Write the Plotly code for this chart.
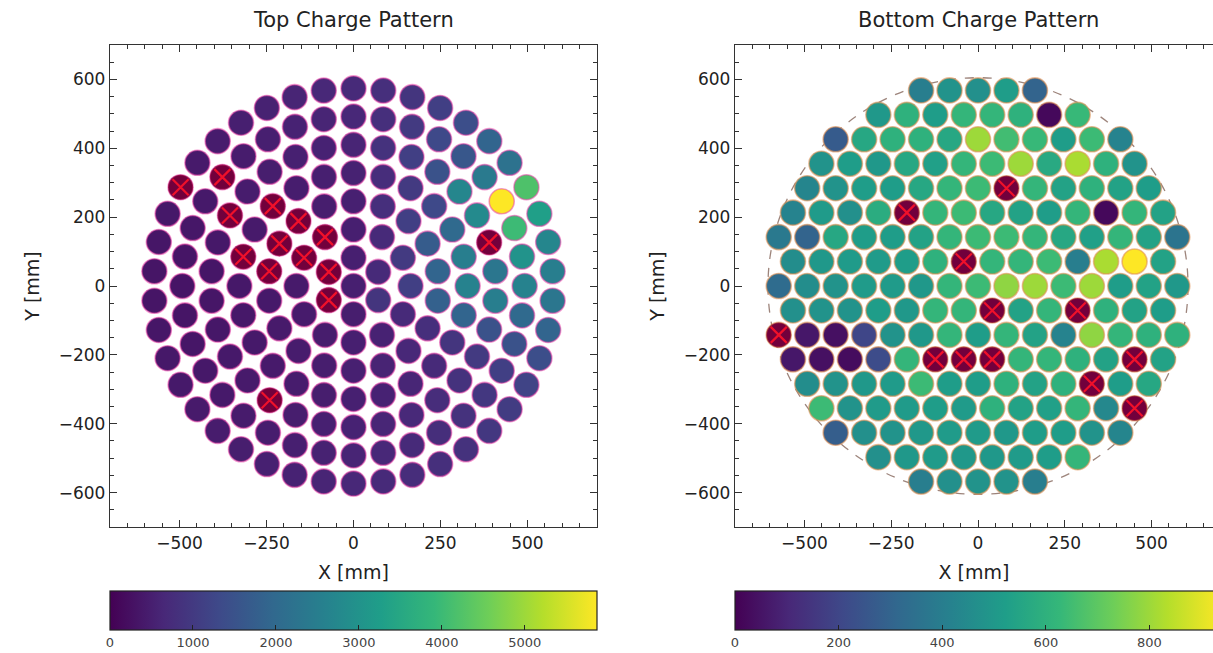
import numpy as np
import plotly.graph_objects as go

# ---------------- figure geometry ----------------
W, H = 1213, 653
FONT = "DejaVu Sans"

# ---------------- top array: concentric rings ----------------
# ring k holds 6k PMTs, first PMT of every ring at 90 deg, counter-clockwise
TOP_RING_PITCH = 82.0  # mm between rings
top_ring0 = [500]
top_ring1 = [500, 0, 0, 480, 900, 700]
top_ring2 = [500, 0, 0, 420, 430, 460, 500, 560, 700, 1100, 1000, 700]
top_ring3 = [520, 480, 0, 0, 0, 400, 420, 450, 480, 520, 580, 650, 800, 1800,
             1900, 1700, 1100, 800]
top_ring4 = [550, 500, 470, 0, 420, 0, 380, 380, 400, 420, 450, 480, 520, 560,
             620, 700, 900, 1900, 2600, 2500, 2000, 1300, 1000, 750]
top_ring5 = [600, 560, 520, 480, 450, 0, 380, 350, 350, 370, 400, 420, 0, 480,
             520, 560, 620, 680, 750, 850, 1000, 1500, 2500, 2300, 0, 2800,
             2700, 1500, 1100, 850]
top_ring6 = [650, 600, 560, 500, 450, 0, 400, 360, 330, 320, 330, 350, 380, 400,
             430, 470, 500, 550, 600, 650, 700, 780, 850, 950, 1100, 1500, 2000,
             2600, 3000, 4000, 5870, 2400, 1600, 1300, 1000, 800]
top_ring7 = [700, 650, 600, 550, 500, 450, 420, 0, 380, 350, 330, 330, 350, 380,
             400, 420, 450, 480, 520, 560, 600, 650, 700, 750, 800, 850, 950,
             1050, 1200, 1400, 1900, 2300, 2500, 2700, 3300, 4200, 2200, 1900,
             1400, 1100, 900, 800]
# (ring, index) of channels switched off
top_dead = [(1, 1), (1, 2), (2, 1), (2, 2), (3, 2), (3, 3), (3, 4), (4, 3),
            (4, 5), (5, 5), (5, 12), (5, 24), (6, 5), (7, 7)]

# ---------------- bottom array: hexagonal lattice ----------------
BOT_PITCH = 82.0  # mm between neighbouring PMTs
BOT_EDGE_RADIUS = 605.0  # dashed boundary (mm)
bot_row_p8 = [400, 480, 470, 520, 300]
bot_row_p7 = [500, 600, 520, 620, 620, 600, 20, 630]
bot_row_p6 = [270, 560, 600, 600, 560, 800, 650, 630, 520, 640, 420]
bot_row_p5 = [480, 520, 500, 560, 530, 620, 640, 800, 570, 820, 600, 480]
bot_row_p4 = [430, 480, 520, 520, 560, 620, 640, 0, 620, 540, 600, 540, 520]
bot_row_p3 = [420, 510, 470, 580, 0, 620, 640, 560, 540, 520, 620, 20, 620, 540]
bot_row_p2 = [380, 300, 560, 520, 520, 540, 620, 640, 640, 620, 560, 530, 620, 540, 360]
bot_row_p1 = [460, 500, 510, 510, 520, 600, 0, 620, 620, 640, 400, 820, 940, 540]
bot_row_00 = [330, 460, 480, 510, 510, 500, 620, 640, 780, 800, 640, 800, 520, 540, 500]
bot_row_m1 = [470, 480, 480, 520, 500, 620, 620, 0, 540, 620, 0, 600, 540, 520]
bot_row_m2 = [0, 60, 40, 200, 480, 500, 620, 520, 620, 540, 420, 780, 620, 600, 600]
bot_row_m3 = [60, 40, 30, 220, 620, 0, 0, 0, 620, 620, 600, 540, 0, 540]
bot_row_m4 = [460, 480, 500, 510, 640, 520, 520, 600, 540, 600, 0, 520, 560]
bot_row_m5 = [640, 480, 510, 510, 520, 510, 600, 540, 530, 620, 440, 0]
bot_row_m6 = [280, 470, 480, 500, 510, 510, 500, 520, 520, 480, 430]
bot_row_m7 = [470, 500, 510, 500, 500, 510, 520, 620]
bot_row_m8 = [400, 470, 480, 480, 400]
# (row number, index within row) of channels switched off
bot_dead = [(4, 7), (3, 4), (1, 6), (-1, 7), (-1, 10), (-2, 0), (-3, 5), (-3, 6),
            (-3, 7), (-3, 12), (-4, 10), (-5, 11)]

top_ticks = [0, 1000, 2000, 3000, 4000, 5000]
bot_ticks = [0, 200, 400, 600, 800]

# ---------------- build PMT coordinates ----------------
top_rings = [top_ring0, top_ring1, top_ring2, top_ring3, top_ring4,
             top_ring5, top_ring6, top_ring7]
tx, ty, tq, tdx, tdy = [], [], [], [], []
dead_set = set(top_dead)
for k, ring in enumerate(top_rings):
    n = len(ring)
    for j, q in enumerate(ring):
        ang = np.deg2rad(90.0 + 360.0 * j / n)
        x, y = k * TOP_RING_PITCH * np.cos(ang), k * TOP_RING_PITCH * np.sin(ang)
        tx.append(x); ty.append(y); tq.append(q)
        if (k, j) in dead_set:
            tdx.append(x); tdy.append(y)

bot_rows = {8: bot_row_p8, 7: bot_row_p7, 6: bot_row_p6, 5: bot_row_p5,
            4: bot_row_p4, 3: bot_row_p3, 2: bot_row_p2, 1: bot_row_p1,
            0: bot_row_00, -1: bot_row_m1, -2: bot_row_m2, -3: bot_row_m3,
            -4: bot_row_m4, -5: bot_row_m5, -6: bot_row_m6, -7: bot_row_m7,
            -8: bot_row_m8}
row_h = BOT_PITCH * np.sqrt(3) / 2
bx, by, bq, bdx, bdy = [], [], [], [], []
bdead_set = set(bot_dead)
for r, row in bot_rows.items():
    n = len(row)
    for i, q in enumerate(row):
        x = (i - (n - 1) / 2) * BOT_PITCH
        y = r * row_h
        bx.append(x); by.append(y); bq.append(q)
        if (r, i) in bdead_set:
            bdx.append(x); bdy.append(y)

# ---------------- figure ----------------
fig = go.Figure()
MS = 25


def add_panel(xs, ys, qs, dxs, dys, xa, ya, edge, cb_x, ticks):
    qmax = max(qs)
    fig.add_trace(go.Scatter(
        x=xs, y=ys, mode="markers", xaxis=xa, yaxis=ya, showlegend=False,
        hoverinfo="skip",
        marker=dict(size=MS, color=qs, colorscale="Viridis", cmin=0, cmax=qmax,
                    line=dict(color=edge, width=1.6), showscale=True,
                    colorbar=dict(orientation="h", x=cb_x, xanchor="center",
                                  y=1 - 591 / H, yanchor="top",
                                  len=487, lenmode="pixels",
                                  thickness=39, thicknessmode="pixels",
                                  outlinewidth=1.2, outlinecolor="#222",
                                  ticks="inside", ticklen=5, tickcolor="#222",
                                  tickvals=ticks,
                                  tickfont=dict(family=FONT, size=13, color="#444"),
                                  xpad=0, ypad=0))))
    # dead channels: dark red tint plus a red cross
    fig.add_trace(go.Scatter(
        x=dxs, y=dys, mode="markers", xaxis=xa, yaxis=ya, showlegend=False,
        hoverinfo="skip",
        marker=dict(size=MS, color="rgba(170,0,30,0.45)", line=dict(width=0))))
    fig.add_trace(go.Scatter(
        x=dxs, y=dys, mode="markers", xaxis=xa, yaxis=ya, showlegend=False,
        hoverinfo="skip",
        marker=dict(size=16, symbol="x-thin", line=dict(color="#f0102a", width=2.2))))


add_panel(tx, ty, tq, tdx, tdy, "x", "y", "rgba(235,70,170,0.55)", 353.5 / W, top_ticks)
add_panel(bx, by, bq, bdx, bdy, "x2", "y2", "rgba(225,145,85,0.6)", 978.5 / W, bot_ticks)

axis_common = dict(showgrid=False, zeroline=False, showline=True,
                   linecolor="#333", linewidth=1.3, mirror="allticks",
                   ticks="inside", ticklen=7, tickwidth=1.2, tickcolor="#333",
                   minor=dict(ticks="inside", ticklen=4, tickwidth=1,
                              tickcolor="#333", dtick=50),
                   tickfont=dict(family=FONT, size=17, color="#222"),
                   title_font=dict(family=FONT, size=19, color="#222"))

ydom = [1 - 527 / H, 1 - 45 / H]
x2_span = (W - 735) / (486 / 1400.0)

fig.update_layout(
    width=W, height=H, margin=dict(l=0, r=0, t=0, b=0, autoexpand=False),
    paper_bgcolor="white", plot_bgcolor="white",
    font=dict(family=FONT, color="#222"),
    xaxis=dict(axis_common, domain=[110 / W, 597 / W], range=[-700, 700],
               dtick=250, anchor="y", title=dict(text="X [mm]", standoff=14)),
    yaxis=dict(axis_common, domain=ydom, range=[-700, 700], dtick=200,
               anchor="x", title=dict(text="Y [mm]", standoff=14)),
    xaxis2=dict(axis_common, domain=[735 / W, 1.0], range=[-700, -700 + x2_span],
                dtick=250, anchor="y2", title=dict(text="X [mm]", standoff=14)),
    yaxis2=dict(axis_common, domain=ydom, range=[-700, 700], dtick=200,
                anchor="x2", mirror=False, title=dict(text="Y [mm]", standoff=14)),
    shapes=[dict(type="circle", xref="x2", yref="y2",
                 x0=-BOT_EDGE_RADIUS, x1=BOT_EDGE_RADIUS,
                 y0=-BOT_EDGE_RADIUS, y1=BOT_EDGE_RADIUS,
                 line=dict(color="rgba(140,110,100,0.85)", width=1.3, dash="dash"),
                 layer="below")],
    annotations=[
        dict(text="Top Charge Pattern", x=353.5 / W, y=1 - 20 / H, xref="paper",
             yref="paper", showarrow=False, xanchor="center", yanchor="middle",
             font=dict(family=FONT, size=21, color="#222")),
        dict(text="Bottom Charge Pattern", x=978.5 / W, y=1 - 20 / H, xref="paper",
             yref="paper", showarrow=False, xanchor="center", yanchor="middle",
             font=dict(family=FONT, size=21, color="#222")),
    ],
)

fig.write_html("out.html")
